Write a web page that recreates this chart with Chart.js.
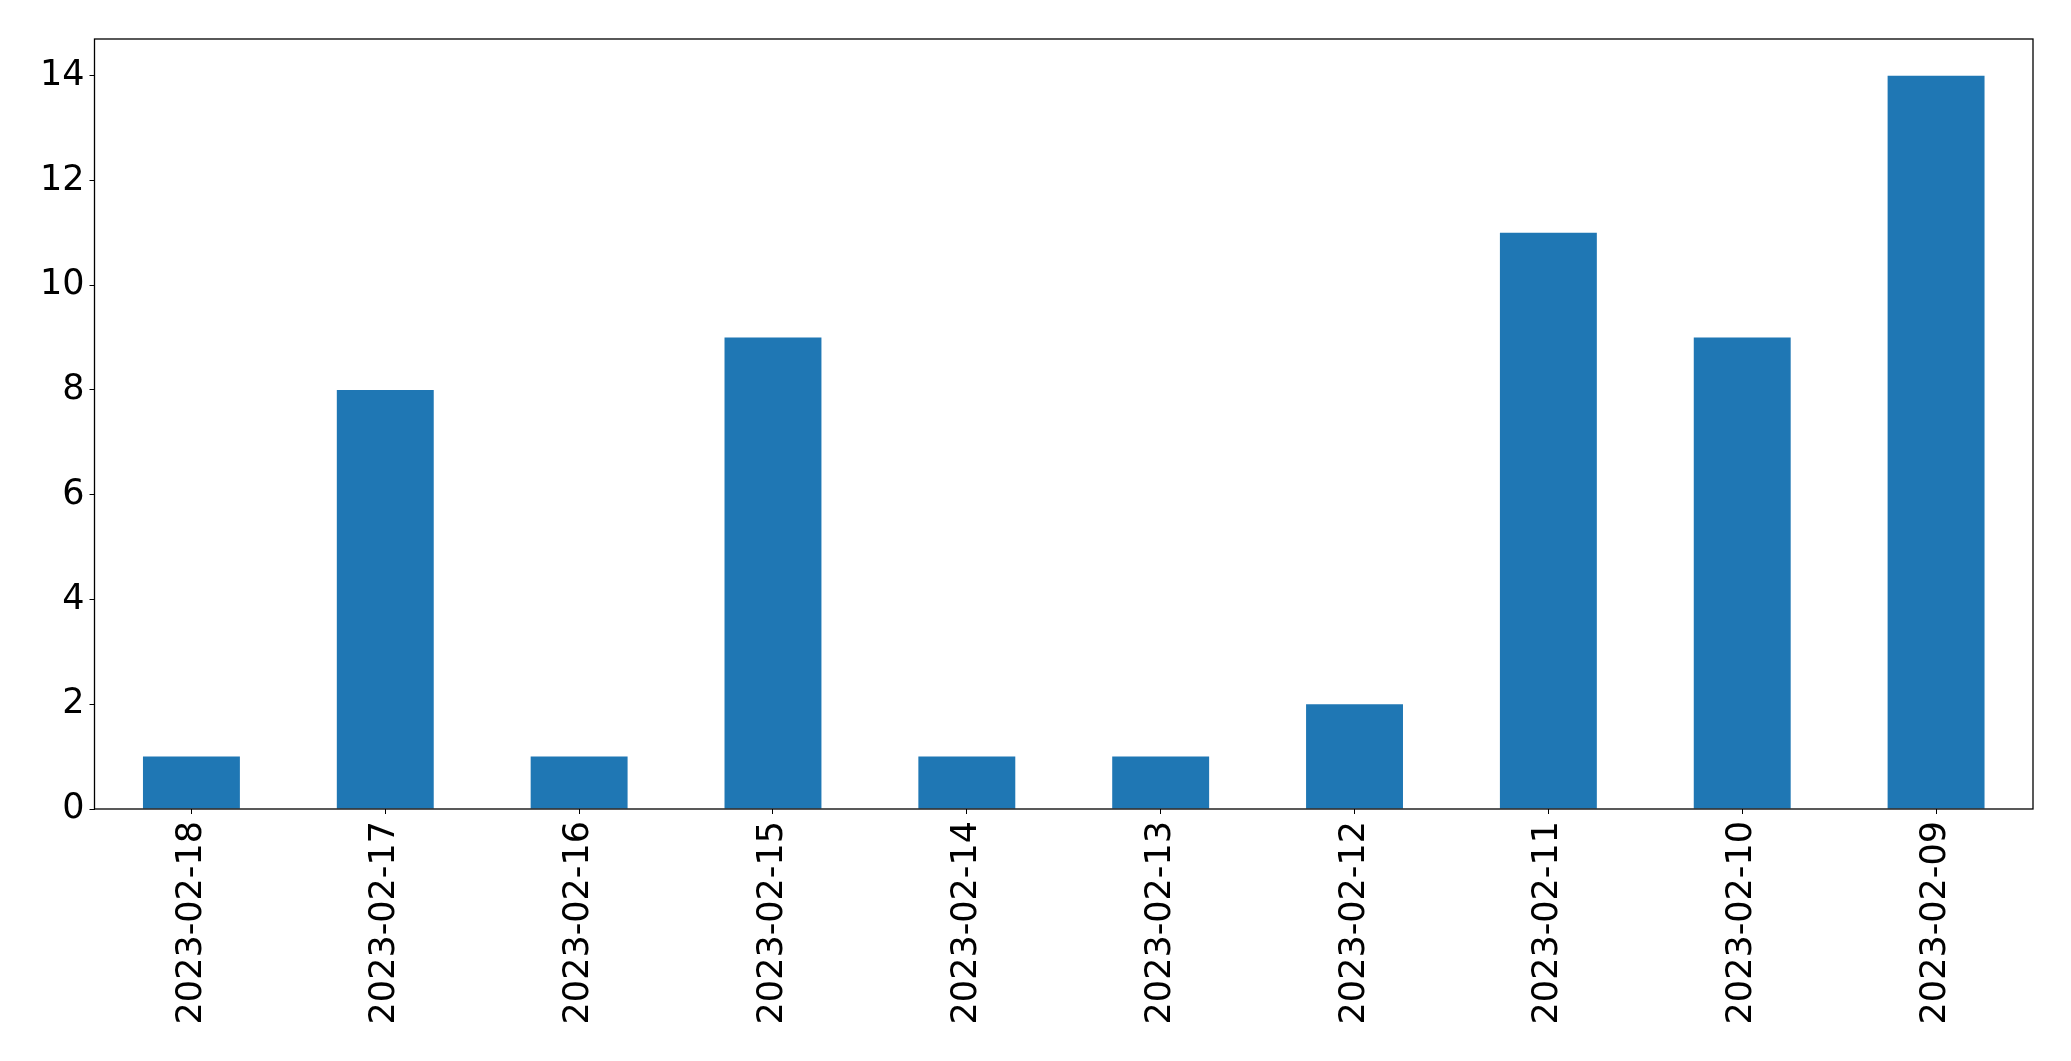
<!DOCTYPE html>
<html>
<head>
<meta charset="utf-8">
<script src="https://cdn.jsdelivr.net/npm/chart.js@4/dist/chart.umd.min.js"></script>
<style>
html,body{margin:0;padding:0;background:#fff;}
#wrap{width:2071px;height:1061px;position:relative;}
</style>
</head>
<body>
<div id="wrap"><canvas id="c" width="2071" height="1061"></canvas></div>
<script>
const categories = ["2023-02-18","2023-02-17","2023-02-16","2023-02-15","2023-02-14","2023-02-13","2023-02-12","2023-02-11","2023-02-10","2023-02-09"];
const values = [1, 8, 1, 9, 1, 1, 2, 11, 9, 14];
const yTicks = [0, 2, 4, 6, 8, 10, 12, 14];
const yMax = 14.7;

const frame = {
  id: 'frame',
  afterDatasetsDraw(chart) {
    const {ctx, chartArea: a} = chart;
    ctx.save();
    ctx.strokeStyle = '#000';
    ctx.lineWidth = 1.3;
    ctx.strokeRect(a.left, a.top, a.right - a.left, a.bottom - a.top);
    ctx.restore();
  }
};

new Chart(document.getElementById('c'), {
  type: 'bar',
  data: {
    labels: categories,
    datasets: [{ data: values, backgroundColor: '#1f77b4', borderWidth: 0,
      categoryPercentage: 1.0, barPercentage: 0.5 }]
  },
  options: {
    responsive: false,
    animation: false,
    layout: { padding: { top: 39, right: 38, bottom: 0, left: 0 } },
    plugins: { legend: { display: false }, tooltip: { enabled: false } },
    scales: {
      x: {
        offset: true,
        grid: { drawOnChartArea: false, drawTicks: true, tickLength: 5, color: '#000', offset: false },
        border: { display: false },
        ticks: { color: '#000', font: { family: 'DejaVu Sans', size: 35 }, maxRotation: 90, minRotation: 90, padding: 7, autoSkip: false },
        afterFit(s) { s.height = 252; }
      },
      y: {
        min: 0, max: yMax,
        afterBuildTicks(s) { s.ticks = yTicks.map(v => ({ value: v })); },
        grid: { drawOnChartArea: false, drawTicks: true, tickLength: 5, color: '#000' },
        border: { display: false },
        ticks: { color: '#000', font: { family: 'DejaVu Sans', size: 35 }, padding: 5 },
        afterFit(s) { s.width = 94.5; }
      }
    }
  },
  plugins: [frame]
});
</script>
</body>
</html>
